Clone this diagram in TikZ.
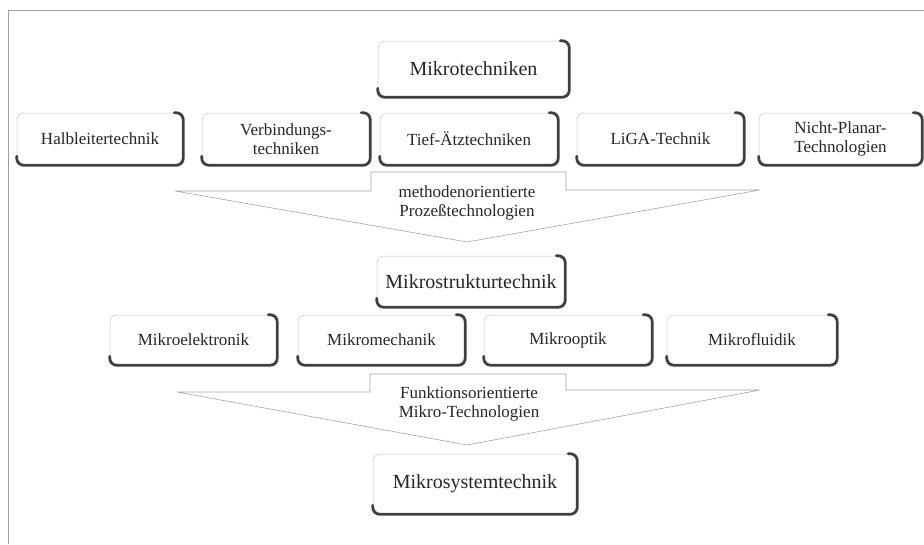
\documentclass[tikz,border=0pt]{standalone}
\usepackage{fontspec}
\setmainfont{Liberation Serif}
\tikzset{
 box/.style={draw=gray!45, line width=0.5pt, rounded corners=7pt, fill=white, inner sep=0pt, align=center, text=black!85, font=\fontsize{17}{18.5}\selectfont},
 bigbox/.style={box, font=\fontsize{20}{22}\selectfont},
 shade/.style={line width=2.8pt, draw=black!75, rounded corners=7pt, line cap=round},
 funnelline/.style={draw=gray!70, line width=0.6pt, line join=miter},
 lbl/.style={align=center, text=black!85, font=\fontsize{17}{18.5}\selectfont},
 frameline/.style={draw=gray!75, line width=1pt}
}
\newcommand\boxshadow[1]{\draw[shade] ([yshift=9pt]#1.south west) -- (#1.south west) -- (#1.south east) -- (#1.north east) -- ([xshift=-9pt]#1.north east);}
\begin{document}
\begin{tikzpicture}[x=1pt,y=-1pt]
\useasboundingbox[fill=white] (0,0) rectangle (924,544);
% frame
\coordinate (fa) at (8,544);
\coordinate (fb) at (8,10);
\coordinate (fc) at (924,10);
\draw[frameline] (fa) -- (fb) -- (fc);
% funnel 1
\coordinate (a1) at (175,191);
\coordinate (b1) at (371,191);
\coordinate (c1) at (371,172);
\coordinate (d1) at (566,172);
\coordinate (e1) at (566,190);
\coordinate (f1) at (760,190);
\coordinate (g1) at (467,242);
\draw[funnelline] (g1) -- (a1) -- (b1) -- (c1) -- (d1) -- (e1) -- (f1) -- cycle;
% funnel 2
\coordinate (a2) at (177,392);
\coordinate (b2) at (370,392);
\coordinate (c2) at (370,374);
\coordinate (d2) at (566,374);
\coordinate (e2) at (566,390);
\coordinate (f2) at (760,390);
\coordinate (g2) at (467,445);
\draw[funnelline] (g2) -- (a2) -- (b2) -- (c2) -- (d2) -- (e2) -- (f2) -- cycle;
% labels
\node[lbl] (l1) at (467,203) {methodenorientierte\\Prozeßtechnologien};
\node[lbl] (l2) at (469,404) {Funktionsorientierte\\Mikro-Technologien};
% boxes
\node[bigbox, minimum width=191pt, minimum height=56pt] (mt) at (473.5,69) {Mikrotechniken};
\node[box, minimum width=166pt, minimum height=52pt] (hl) at (100,139) {Halbleitertechnik};
\node[box, minimum width=168pt, minimum height=52pt] (vb) at (286,139) {Verbindungs-\\techniken};
\node[box, minimum width=178pt, minimum height=52pt] (ta) at (469,139) {Tief-Ätztechniken};
\node[box, minimum width=167pt, minimum height=52pt] (lg) at (660.5,139) {LiGA-Technik};
\node[box, minimum width=163pt, minimum height=52pt] (np) at (840.5,139) {Nicht-Planar-\\Technologien};
\node[bigbox, minimum width=188pt, minimum height=51pt] (ms) at (471,281.5) {Mikrostrukturtechnik};
\node[box, minimum width=167pt, minimum height=50pt] (me) at (193.5,340) {Mikroelektronik};
\node[box, minimum width=167pt, minimum height=50pt] (mm) at (381.5,340) {Mikromechanik};
\node[box, minimum width=168pt, minimum height=50pt] (mo) at (568,340) {Mikrooptik};
\node[box, minimum width=170pt, minimum height=50pt] (mf) at (752,340) {Mikrofluidik};
\node[bigbox, minimum width=204pt, minimum height=60pt] (sy) at (475,484) {Mikrosystemtechnik};
\foreach \n in {mt,hl,vb,ta,lg,np,ms,me,mm,mo,mf,sy}{\boxshadow{\n}}
\end{tikzpicture}
\end{document}
